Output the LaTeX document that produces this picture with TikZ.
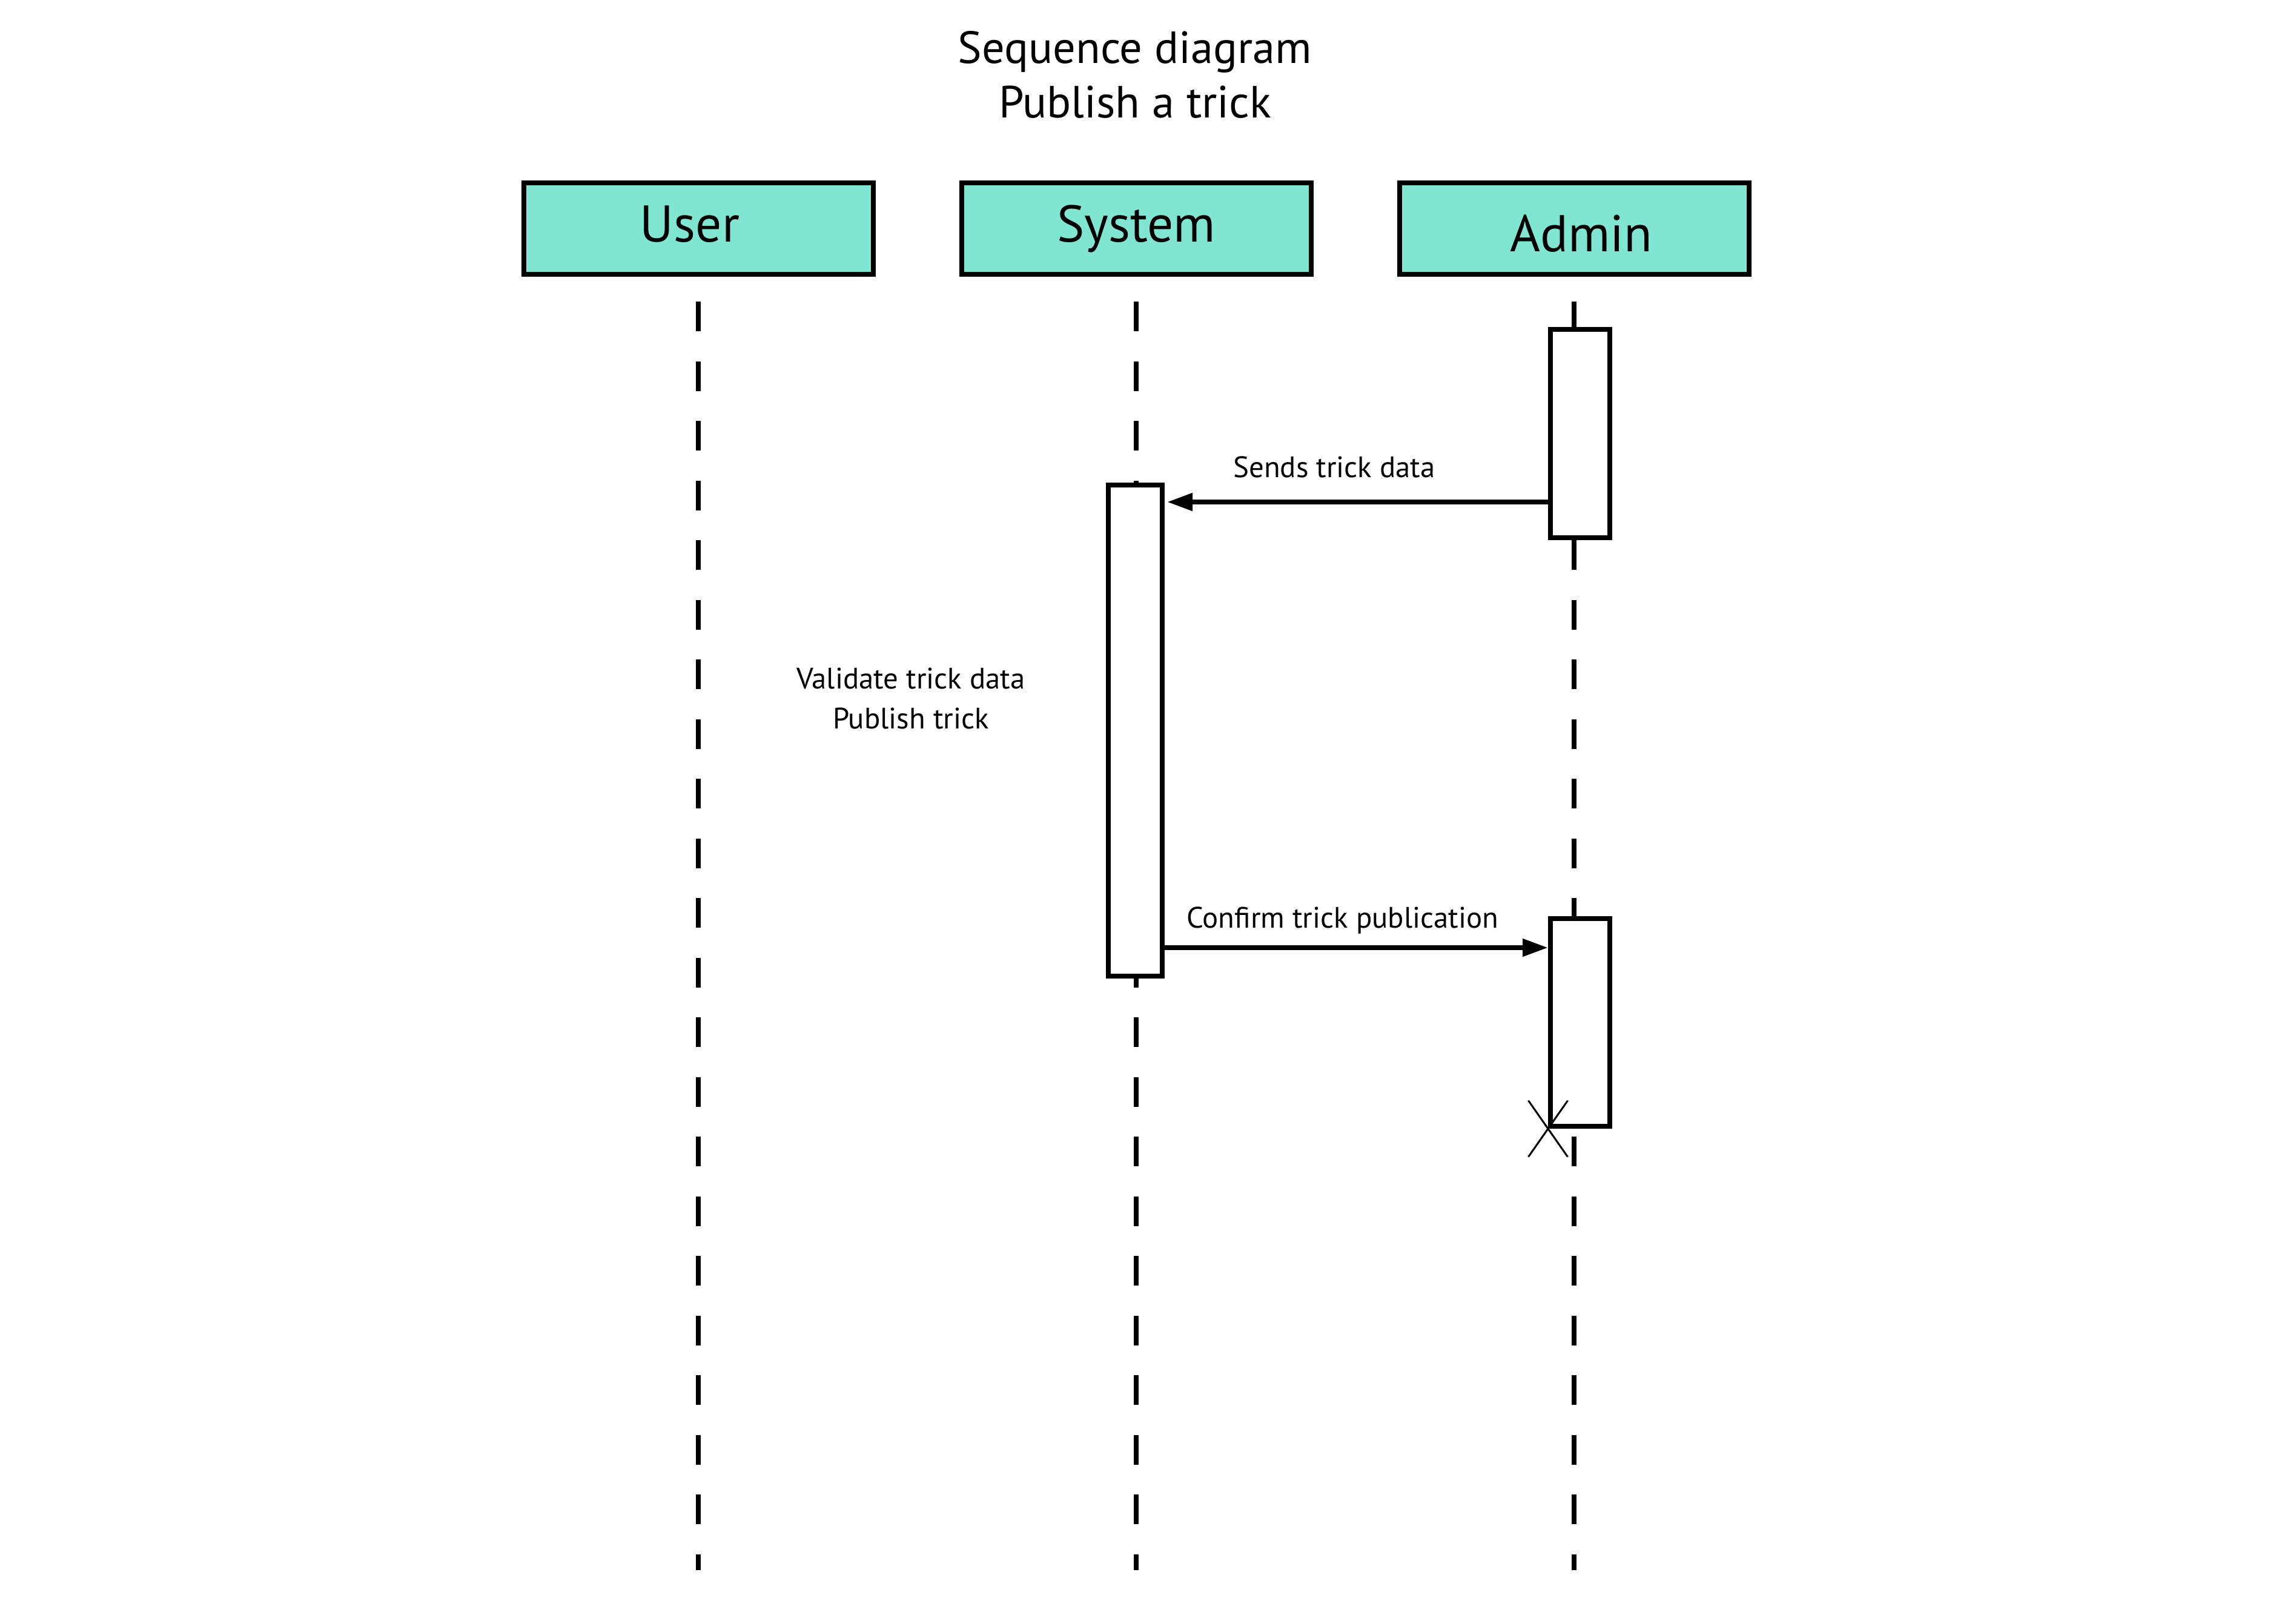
\documentclass[tikz,border=0pt]{standalone}
\usepackage{fontspec}
\setmainfont{PT Sans}
\usepackage{tikz}
\usetikzlibrary{positioning, arrows.meta, calc, shapes.misc}
\definecolor{actorfill}{HTML}{80E6D1}
\tikzset{
    actor/.style    = {draw, line width=0.8mm, fill=actorfill, inner sep=0pt,
                       minimum width=5.77cm, minimum height=1.51cm,
                       text height=0.6cm, text depth=0.17cm,
                       font=\fontsize{24.3}{28}\selectfont},
    actbox/.style   = {draw, line width=0.8mm, fill=white, inner sep=0pt},
    lifeline/.style = {line width=0.8mm, dash pattern=on 4.9mm off 4.95mm},
    msg/.style      = {-{Triangle[length=4.2mm, width=2.8mm]}, line width=0.8mm},
    msglbl/.style   = {anchor=base, inner sep=0pt, font=\fontsize{13.9}{16}\selectfont},
    titlelbl/.style = {anchor=base, inner sep=0pt, font=\fontsize{21.2}{26}\selectfont},
    destroy/.style  = {cross out, draw, line width=0.3mm, inner sep=0pt,
                       minimum width=0.62cm, minimum height=0.9cm},
}
\begin{document}
\begin{tikzpicture}
\useasboundingbox (0,0) rectangle (37.91,-26.76);

% title
\node[titlelbl] (title) at (18.74,-1.05) {Sequence diagram};
\node[titlelbl] (subtitle) at (18.74,-1.95) {Publish a trick};

% participants
\node[actor] (user) at (11.53,-3.775) {\hspace*{-2.8mm}User};
\node[actor] (system) at (18.76,-3.775) {System};
\node[actor] (admin) at (25.99,-3.775) {\hspace*{2.4mm}\raisebox{-1.6mm}{Admin}};

% lifelines
\coordinate (top) at (0,-4.98);
\coordinate (bot) at (0,-25.93);
\draw[lifeline] (user |- top) -- (user |- bot);
\draw[lifeline] (system |- top) -- (system |- bot);
\draw[lifeline] (admin |- top) -- (admin |- bot);

% activations
\node[actbox, minimum width=0.89cm, minimum height=8.11cm] (sys) at (18.745,-12.065) {};
\node[actbox, minimum width=0.98cm, minimum height=3.44cm] (adm1) at (26.09,-7.16) {};
\node[actbox, minimum width=0.98cm, minimum height=3.43cm] (adm2) at (26.09,-16.885) {};

% messages
\coordinate (m1) at (19.27,-8.29);
\coordinate (m2) at (0,-15.65);
\draw[msg] (adm1.west |- m1) -- (m1);
\node[msglbl] (m1lbl) at (22.03,-7.88) {Sends trick data};
\draw[msg] (sys.east |- m2) -- (adm2.west |- m2);
\node[msglbl] (m2lbl) at (22.17,-15.32) {Confirm trick publication};

% self work
\node[msglbl] (val1) at (15.04,-11.37) {Validate trick data};
\node[msglbl] (val2) at (15.04,-12.03) {Publish trick};

% end of admin
\node[destroy] (stop) at (adm2.south west) {};

\end{tikzpicture}
\end{document}
